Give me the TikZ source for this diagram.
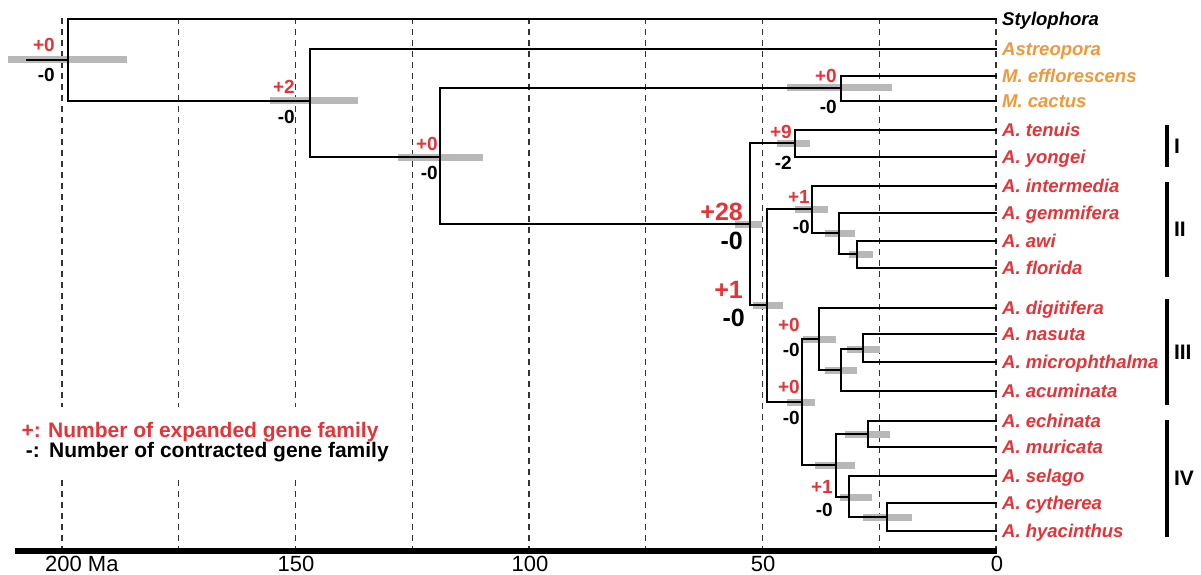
\documentclass[tikz,border=0pt]{standalone}
\usepackage{fontspec}
\setmainfont{Liberation Sans}
\definecolor{acrred}{RGB}{228,52,56}
\definecolor{montorange}{RGB}{238,153,58}
\begin{document}
\begin{tikzpicture}[x=1pt,y=-1pt]
	\tikzset{
		branch/.style={line width=2.6pt,color=black},
		ci/.style={line width=7pt,color=black!28},
		grid line/.style={line width=1.2pt,color=black!80,dash pattern=on 6pt off 5pt},
		taxon/.style={anchor=base west,inner sep=0pt,xshift=5pt,yshift=-6.6pt,font=\fontsize{18.5}{20}\selectfont\bfseries\itshape},
		gain/.style={anchor=east,inner sep=0pt,text=acrred,font=\fontsize{19}{20}\selectfont\bfseries},
		loss/.style={anchor=east,inner sep=0pt,text=black,font=\fontsize{19}{20}\selectfont\bfseries},
		big/.style={font=\fontsize{25}{26}\selectfont\bfseries},
		key/.style={inner sep=0pt,font=\fontsize{21}{22}\selectfont\bfseries},
		tick label/.style={anchor=north,inner sep=0pt,font=\fontsize{22}{24}\selectfont}
	}
	\useasboundingbox (0,0) rectangle (1201,575);
	% time grid, 25 Ma apart
	\foreach \k in {0,...,8}
		\draw[grid line] ({62+116.75*\k},18) -- ({62+116.75*\k},548);
	\fill[white] (12,407) rectangle (398,478);
	\path
	(26,60) coordinate (stub)
	(68,60) coordinate (nR)
	(310,101) coordinate (nA)
	(440,157) coordinate (nM)
	(841,88) coordinate (nMon)
	(750,224) coordinate (nAcr)
	(795,143) coordinate (nTY)
	(767,305) coordinate (nC)
	(812,209) coordinate (nII)
	(839,233) coordinate (nGAF)
	(857,254) coordinate (nAF)
	(802,402) coordinate (nIIIIV)
	(819,339) coordinate (nIII)
	(841,370) coordinate (nNMA)
	(863,349) coordinate (nNM)
	(836,465) coordinate (nIV)
	(868,434) coordinate (nEM)
	(849,497) coordinate (nSCH)
	(887,517) coordinate (nCH);
	\foreach \p/\y in {Sty/19,Ast/49,Meff/76,Mcac/101,Aten/130,Ayon/157,Aint/186,Agem/213,
		Aawi/241,Aflo/268,Adig/308,Anas/334,Amic/362,Aacu/391,Aech/421,Amur/447,Asel/476,Acyt/503,Ahya/531}
		\coordinate (\p) at (997,\y);
	% node age intervals
	\foreach \n/\l/\r in {nR/-60/59,nA/-40/48,nM/-42/43,nMon/-54/51,nAcr/-15/12,nTY/-18/15,nC/-14/16,
		nII/-17/16,nGAF/-14/16,nAF/-8/16,nIIIIV/-15/13,nIII/-16/17,nNMA/-16/16,nNM/-16/17,
		nIV/-21/19,nEM/-23/22,nSCH/-9/23,nCH/-24/25}
		\draw[ci] ([xshift=\l pt]\n) -- ([xshift=\r pt]\n);
	\draw[branch] (stub) -- (nR);
	\foreach \a/\b in {nR/Sty,nR/nA,nA/Ast,nA/nM,nM/nMon,nMon/Meff,nMon/Mcac,nM/nAcr,
		nAcr/nTY,nTY/Aten,nTY/Ayon,nAcr/nC,nC/nII,nII/Aint,nII/nGAF,nGAF/Agem,nGAF/nAF,nAF/Aawi,nAF/Aflo,
		nC/nIIIIV,nIIIIV/nIII,nIII/Adig,nIII/nNMA,nNMA/nNM,nNM/Anas,nNM/Amic,nNMA/Aacu,
		nIIIIV/nIV,nIV/nEM,nEM/Aech,nEM/Amur,nIV/nSCH,nSCH/Asel,nSCH/nCH,nCH/Acyt,nCH/Ahya}
		\draw[branch] (\a) |- (\b);
	\foreach \p/\c/\t in {Sty/black/Stylophora,Ast/montorange/Astreopora,Meff/montorange/M. efflorescens,
		Mcac/montorange/M. cactus,Aten/acrred/A. tenuis,Ayon/acrred/A. yongei,Aint/acrred/A. intermedia,
		Agem/acrred/A. gemmifera,Aawi/acrred/A. awi,Aflo/acrred/A. florida,Adig/acrred/A. digitifera,
		Anas/acrred/A. nasuta,Amic/acrred/A. microphthalma,Aacu/acrred/A. acuminata,Aech/acrred/A. echinata,
		Amur/acrred/A. muricata,Asel/acrred/A. selago,Acyt/acrred/A. cytherea,Ahya/acrred/A. hyacinthus}
		\node[taxon,text=\c] (lab\p) at (\p) {\t};
	% gene family gains and losses
	\foreach \n/\x/\yp/\ym/\g/\l in {R/55/45/75/0/0,A/295/87/117/2/0,M/438/144/173/0/0,Mon/837/76/107/0/0,
		TY/792/132/163/9/2,II/810/197/227/1/0,III/800/325/350/0/0,IIIIV/800/387/418/0/0,IV/833/487/510/1/0}{
		\node[gain] (gain\n) at (\x,\yp) {+\g};
		\node[loss] (loss\n) at (\x,\ym) {-\l};
	}
	\node[gain,big] (gainAcr) at (743,212) {+28};
	\node[loss,big] (lossAcr) at (743,241) {-0};
	\node[gain,big] (gainC) at (743,290) {+1};
	\node[loss,big] (lossC) at (745,318) {-0};
	% clades
	\foreach \c/\ya/\yb/\t in {cI/125/167/I,cII/182/277/II,cIII/299/405/III,cIV/420/537/IV}{
		\coordinate (\c a) at (1167,\ya);
		\coordinate (\c b) at (1167,\yb);
		\draw[line width=4pt] (\c a) -- (\c b) node[midway,right=5pt,inner sep=0pt,font=\fontsize{21}{24}\selectfont\bfseries] (\c) {\t};
	}
	% legend
	\node[key,text=acrred,anchor=base east] (keyplus) at (41,437) {+:};
	\node[key,text=acrred,anchor=base west] (keyplustext) at (48,437) {Number of expanded gene family};
	\node[key,anchor=base east] (keyminus) at (40,457) {-:};
	\node[key,anchor=base west] (keyminustext) at (49,457) {Number of contracted gene family};
	% time axis
	\coordinate (axisL) at (15,551);
	\coordinate (axisR) at (997,551);
	\draw[line width=6pt] (axisL) -- (axisR);
	\node[tick label,anchor=north west] (t200) at (45,556) {200 Ma};
	\foreach \v/\x in {150/296,100/530,50/763,0/997}
		\node[tick label] (t\v) at (\x,556) {\v};
\end{tikzpicture}
\end{document}
